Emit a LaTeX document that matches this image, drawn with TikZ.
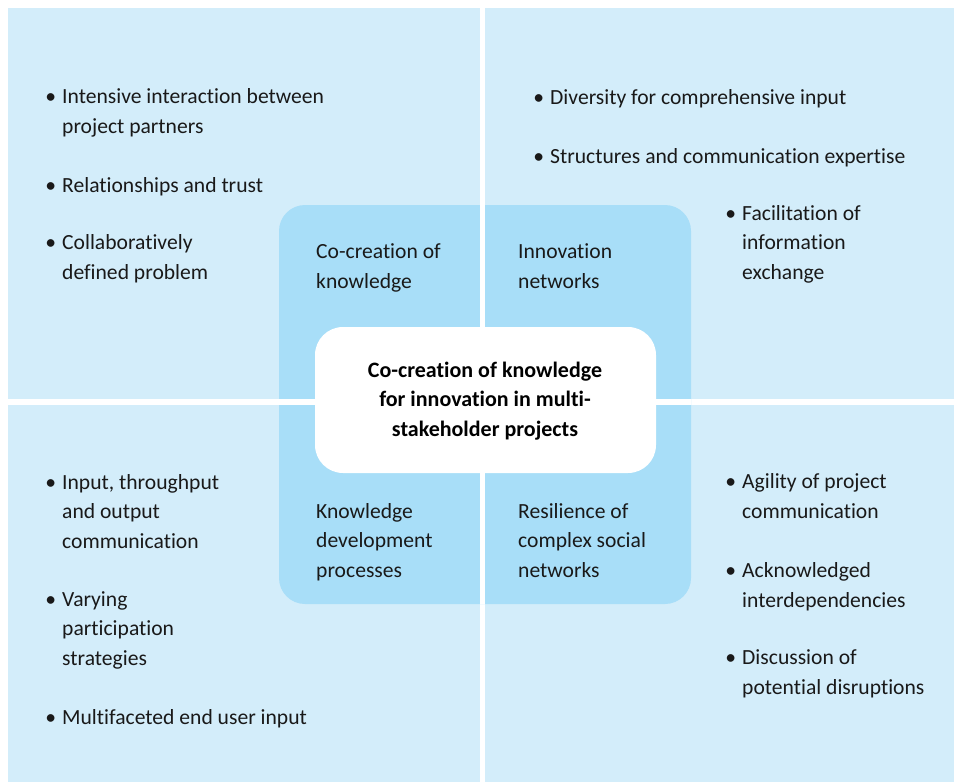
\documentclass[tikz,border=0pt]{standalone}
\usepackage{fontspec}
\setmainfont{Carlito}[Ligatures=NoCommon]
\usetikzlibrary{positioning}

\definecolor{paleblue}{RGB}{211,237,250}
\definecolor{midblue}{RGB}{168,222,248}
\newcommand{\bul}{\llap{\textbullet\hspace{6pt}}}

\begin{document}
\begin{tikzpicture}[x=1pt, y=-1pt,
    % base anchor sits on the last line
    txt/.style={anchor=base west, inner sep=0pt, align=left,
      font=\fontsize{21.6}{29.4}\selectfont, text=black!90},
    pt/.style={txt},
    core/.style={inner sep=0pt, align=center,
      font=\fontsize{22}{29.4}\selectfont\bfseries}]

  \useasboundingbox (0,0) rectangle (954,782);

  % four quadrants
  \fill[paleblue] (8,8) rectangle (480,399);
  \fill[paleblue] (485,8) rectangle (954,399);
  \fill[paleblue] (8,405) rectangle (480,782);
  \fill[paleblue] (485,405) rectangle (954,782);

  % inner ring and white gaps
  \fill[midblue, rounded corners=26pt] (279,205) rectangle (691,604);
  \fill[white] (480,205) rectangle (485,604);
  \fill[white] (279,399) rectangle (691,405);
  \fill[white, rounded corners=28pt] (315,327) rectangle (656,473);

  \node[core] (centre) at (485,401)
    {Co-creation of knowledge\\for innovation in multi-\\stakeholder projects};

  % inner labels
  \node[txt] (cocreate) at (316,288) {Co-creation of\\knowledge};
  \node[txt] (innov) at (518,288) {Innovation\\networks};
  \node[txt] (kdev) at (316,577) {Knowledge\\development\\processes};
  \node[txt] (resil) at (518,577) {Resilience of\\complex social\\networks};

  % bullet points
  \node[pt] (tl1) at (62,133) {\bul Intensive interaction between\\project partners};
  \node[pt] (tl2) at (62,192) {\bul Relationships and trust};
  \node[pt] (tl3) at (62,279) {\bul Collaboratively\\defined problem};

  \node[pt] (tr1) at (550,104) {\bul Diversity for comprehensive input};
  \node[pt] (tr2) at (550,163) {\bul Structures and communication expertise};
  \node[pt] (tr3) at (742,279) {\bul Facilitation of\\information\\exchange};

  \node[pt] (bl1) at (62,548) {\bul Input, throughput\\and output\\communication};
  \node[pt] (bl2) at (62,665) {\bul Varying\\participation\\strategies};
  \node[pt] (bl3) at (62,724) {\bul Multifaceted end user input};

  \node[pt] (br1) at (742,518) {\bul Agility of project\\communication};
  \node[pt] (br2) at (742,607) {\bul Acknowledged\\interdependencies};
  \node[pt] (br3) at (742,694) {\bul Discussion of\\potential disruptions};
\end{tikzpicture}
\end{document}
